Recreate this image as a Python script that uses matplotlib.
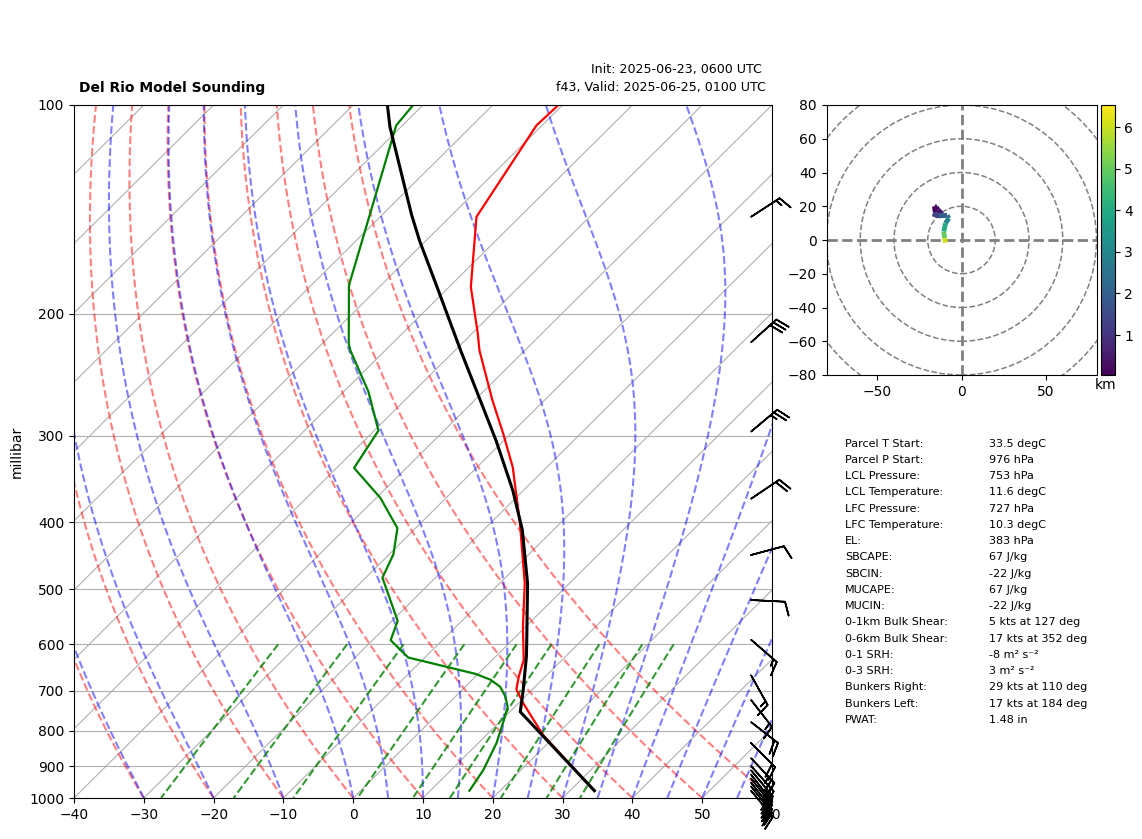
import numpy as np
import matplotlib
matplotlib.use("Agg")
import matplotlib.pyplot as plt
from matplotlib.collections import LineCollection
from matplotlib.patches import Circle
from matplotlib.ticker import NullFormatter, ScalarFormatter, NullLocator
from matplotlib.transforms import Affine2D

# sounding
temp_p = [976, 811, 730, 697, 668, 632, 566, 490, 401, 333, 299, 266, 226, 214, 183, 145, 107, 100]
temp_c = [33.5, 18.1, 10.7, 7.7, 6.2, 4.5, -0.4, -6.4, -15.8, -24.9, -30.9, -37.6, -46.5, -49.1, -56.9, -66.2, -70.8, -70.6]
dewp_p = [976, 911, 833, 763, 739, 713, 691, 675, 662, 627, 592, 555, 481, 445, 408, 369, 334, 295, 259, 226, 221, 182, 107, 100]
dewp_c = [15.6, 14.6, 12.6, 10.0, 9.0, 7.1, 5.0, 2.6, -0.4, -12.4, -17.4, -19.2, -27.6, -29.4, -32.6, -39.4, -47.5, -49.4, -56.5, -65.0, -66.2, -74.6, -90.9, -91.4]
parcel_p = [976, 751, 699, 625, 599, 490, 410, 360, 305, 261, 226, 185, 157, 144, 107.5, 100]
parcel_c = [33.5, 11.5, 8.8, 4.4, 2.6, -6.0, -14.5, -21.5, -31.1, -40.5, -49.2, -61.1, -70.9, -75.8, -91.6, -95.1]

# barbs, kts
barb_p = [145, 220, 296, 370, 446, 518, 591, 665, 722, 777, 833, 876, 899, 912, 925, 937, 950, 962, 976]
barb_u = [-12.6, -22.3, -19.2, -16.6, -9.7, -10, -11.3, -7.3, -9.2, -15.8, -14.1, -16, -16, -15, -14, -15, -15, -16, -15]
barb_v = [-8.2, -20.1, -16.1, -11.2, -2.6, 0.5, 9.8, 13.1, 11.8, 12.3, 14.1, 17, 18, 18, 18, 19, 19, 20, 18]

# hodograph
hodo_km = [0.04, 0.16, 0.27, 0.4, 0.5, 0.62, 0.75, 0.95, 1.35, 1.9, 2.5, 3.1, 4.0, 5.0, 6.1, 6.53]
hodo_u = [-15.5, -16, -15, -14, -11.5, -12.5, -14.5, -15.5, -17, -13.5, -8.5, -7.5, -9.5, -10.5, -10, -9.5]
hodo_v = [16, 20, 19.5, 18, 15.5, 15, 15, 15, 15.5, 14.3, 14.6, 12.9, 9.9, 5, 1, -1.6]

stat_names = ["Parcel T Start:", "Parcel P Start:", "LCL Pressure:", "LCL Temperature:", "LFC Pressure:",
              "LFC Temperature:", "EL:", "SBCAPE:", "SBCIN:", "MUCAPE:", "MUCIN:", "0-1km Bulk Shear:",
              "0-6km Bulk Shear:", "0-1 SRH:", "0-3 SRH:", "Bunkers Right:", "Bunkers Left:", "PWAT:"]
stat_values = ["33.5 degC", "976 hPa", "753 hPa", "11.6 degC", "727 hPa", "10.3 degC", "383 hPa", "67 J/kg",
               "-22 J/kg", "67 J/kg", "-22 J/kg", "5 kts at 127 deg", "17 kts at 352 deg", "-8 m\u00b2 s\u207b\u00b2",
               "3 m\u00b2 s\u207b\u00b2", "29 kts at 110 deg", "17 kts at 184 deg", "1.48 in"]

# background lines
dry_t0 = np.arange(-40, 61, 10)
moist_t0 = np.concatenate((np.arange(-40, 0, 10), np.arange(0, 61, 5)))
mix_w = [0.0004, 0.001, 0.002, 0.004, 0.007, 0.01, 0.016, 0.024, 0.032]
W, H = 1142, 839


def es(t_c):
    return 6.112 * np.exp(17.67 * t_c / (t_c + 243.5))


def moist_profile(t0_c, p):
    # integrate moist lapse rate upward in small pressure steps
    rd, cp, eps = 287.04, 1005.7, 0.622
    def rate(t, pr):
        lv = 2.501e6
        rs = eps * es(t - 273.15) / (pr - es(t - 273.15))
        return (rd * t + lv * rs) / (cp + lv ** 2 * rs * eps / (rd * t ** 2)) / pr
    out = [t0_c + 273.15]
    for i in range(len(p) - 1):
        dp = p[i + 1] - p[i]
        t = out[-1]
        k1 = rate(t, p[i])
        k2 = rate(t + dp * k1 / 2, p[i] + dp / 2)
        k3 = rate(t + dp * k2 / 2, p[i] + dp / 2)
        k4 = rate(t + dp * k3, p[i + 1])
        out.append(t + dp * (k1 + 2 * k2 + 2 * k3 + k4) / 6)
    return np.array(out) - 273.15


def px_axes(left, top, right, bottom):
    return fig.add_axes([left / W, (H - bottom) / H, (right - left) / W, (bottom - top) / H])


fig = plt.figure(figsize=(W / 100, H / 100), dpi=100)

# Skew-T
ax = px_axes(74, 105, 772, 798)
ax.set_yscale('log')
ax.set_xlim(-40, 60)
ax.set_ylim(1000, 100)
skew = ax.transScale + ax.transLimits + Affine2D().skew_deg(45, 0) + ax.transAxes

p_line = np.linspace(1000, 100, 181)
for t in np.arange(-140, 61, 10):
    ax.plot([t, t], [1000, 100], color='#b0b0b0', lw=0.8, transform=skew, zorder=1)
ax.yaxis.grid(True, color='#b0b0b0', lw=0.8)

for t0 in dry_t0:
    t_k = (t0 + 273.15) * (p_line / 1000) ** 0.2857
    ax.plot(t_k - 273.15, p_line, color='r', ls='--', lw=1.5, alpha=0.5, transform=skew)
for t0 in moist_t0:
    ax.plot(moist_profile(t0, p_line), p_line, color='b', ls='--', lw=1.5, alpha=0.5, transform=skew)
p_mix = np.linspace(600, 1000, 40)
for w in mix_w:
    e = p_mix * w / (0.622 + w)
    x = np.log(e / 6.112)
    ax.plot(243.5 * x / (17.67 - x), p_mix, color='g', ls='--', lw=1.5, alpha=0.8, transform=skew)

ax.plot(temp_c, temp_p, color='r', lw=1.6, transform=skew)
ax.plot(dewp_c, dewp_p, color='g', lw=1.6, transform=skew)
ax.plot(parcel_c, parcel_p, color='k', lw=2.2, transform=skew)

ax.barbs(np.full(len(barb_p), 0.97), barb_p, barb_u, barb_v, pivot='tip', length=7, linewidth=1.2,
         transform=ax.get_yaxis_transform(), clip_on=False, zorder=3)

ax.set_xticks(np.arange(-40, 61, 10))
ax.set_yticks(np.arange(100, 1001, 100))
ax.yaxis.set_major_formatter(ScalarFormatter())
ax.yaxis.set_minor_locator(NullLocator())
ax.yaxis.set_minor_formatter(NullFormatter())
ax.set_ylabel('millibar')
ax.yaxis.set_label_coords(-0.072, 0.5)

fig.text(79 / W, (H - 88) / H, 'Del Rio Model Sounding', fontweight='bold', fontsize=10, va='center')
fig.text(762 / W, (H - 70) / H, 'Init: 2025-06-23, 0600 UTC', fontsize=9.1, ha='right', va='center')
fig.text(766 / W, (H - 87) / H, 'f43, Valid: 2025-06-25, 0100 UTC', fontsize=9.1, ha='right', va='center')

# hodograph
hax = px_axes(826.5, 105, 1096.5, 375)
hax.set_xlim(-80, 80)
hax.set_ylim(-80, 80)
for r in [20, 40, 60, 80, 100]:
    hax.add_patch(Circle((0, 0), r, fill=False, ls='--', lw=1.1, ec='gray'))
hax.axhline(0, color='gray', ls='--', lw=2)
hax.axvline(0, color='gray', ls='--', lw=2)
hax.set_xticks([-50, 0, 50])
hax.set_yticks(np.arange(-80, 81, 20))

pts = np.column_stack((hodo_u, hodo_v))
segs = np.stack((pts[:-1], pts[1:]), axis=1)
lc = LineCollection(segs, cmap='viridis', lw=3.5, zorder=3)
lc.set_array(np.array(hodo_km[:-1]))
lc.set_clim(hodo_km[0], hodo_km[-1])
hax.add_collection(lc)

cax = px_axes(1100.5, 105, 1114.5, 375)
fig.colorbar(lc, cax=cax, ticks=[1, 2, 3, 4, 5, 6])
fig.text(1106 / W, (H - 385) / H, 'km', ha='center', va='center')

# stats
for i in range(len(stat_names)):
    y = (H - (443.7 + i * 16.24)) / H
    fig.text(845 / W, y, stat_names[i], fontsize=8, va='center')
    fig.text(989 / W, y, stat_values[i], fontsize=8, va='center')

fig.savefig('out.png', dpi=100)
